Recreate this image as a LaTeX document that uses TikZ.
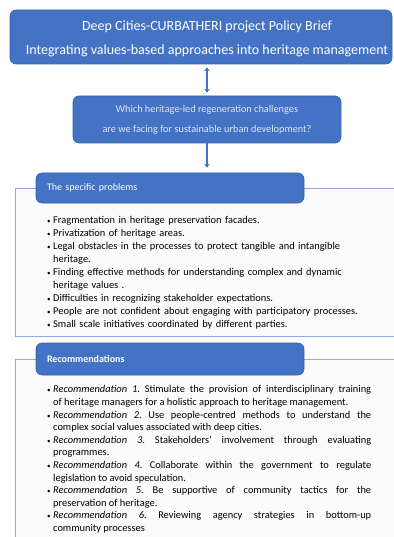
\documentclass[tikz,border=0pt]{standalone}
\usepackage{fontspec}
\setmainfont{Carlito}
\usepackage{enumitem}
\usetikzlibrary{positioning,arrows.meta}
\definecolor{boxblue}{HTML}{4472C4}
\definecolor{frameblue}{HTML}{8FAADC}
\definecolor{paleblue}{HTML}{DDE5F4}
\setlist[itemize]{nosep,leftmargin=6pt,labelsep=2.5pt,label={\fontsize{7}{7}\selectfont\textbullet}}
\frenchspacing

\begin{document}
\begin{tikzpicture}[x=1pt,y=-1pt,
  bluebox/.style={rectangle,rounded corners=6pt,fill=boxblue,draw=boxblue!85!black,line width=0.6pt,inner sep=0pt},
  headtab/.style={bluebox,minimum width=268pt,text width=246pt,inner xsep=11pt,align=left,text=white,font=\fontsize{10}{11}\selectfont},
  panel/.style={rectangle,draw=frameblue,line width=1.2pt,fill=gray!3,inner sep=0pt,anchor=north west},
  bodytext/.style={anchor=north west,inner sep=0pt,text width=324pt},
  link/.style={draw=boxblue,line width=1.8pt,>={Stealth[length=4pt,width=5.5pt]}}]
\useasboundingbox (0,0) rectangle (393,537);

% title and question
\node[bluebox,minimum width=382pt,minimum height=54pt] (brief) at (201,37) {};
\node[text=white,align=center,inner sep=0pt,font=\fontsize{14}{24}\selectfont] (brieftext) at (207,38.5)
  {Deep Cities-CURBATHERI project Policy Brief\\Integrating values-based approaches into heritage management};
\node[bluebox,minimum width=268pt,minimum height=47pt,text=paleblue,align=center,font=\fontsize{10.3}{20}\selectfont] (question) at (207,119.5)
  {Which heritage-led regeneration challenges\\are we facing for sustainable urban development?};

% problems
\node[panel,minimum width=390pt,minimum height=148pt] (probframe) at (15,188) {};
\node[headtab,minimum height=30pt] (probtab) at (170,188) {The specific problems};
\node[bodytext,align=left,font=\fontsize{10.4}{13}\selectfont] (problems) at (47,210) {
\begin{itemize}
\item Fragmentation in heritage preservation facades.
\item Privatization of heritage areas.
\item Legal obstacles in the processes to protect tangible and intangible\\heritage.
\item Finding effective methods for understanding complex and dynamic\\heritage values .
\item Difficulties in recognizing stakeholder expectations.
\item People are not confident about engaging with participatory processes.
\item Small scale initiatives coordinated by different parties.
\end{itemize}};

% recommendations
\node[panel,minimum width=390pt,minimum height=200pt] (recframe) at (15,359) {};
\node[headtab,minimum height=32pt,font=\fontsize{10}{11}\selectfont\bfseries] (rectab) at (170,359) {Recommendations};
\node[bodytext,align=justify,font=\fontsize{10.4}{12.6}\selectfont] (recs) at (47,380) {
\begin{itemize}
\item \textit{Recommendation 1}. Stimulate the provision of interdisciplinary training\linebreak of heritage managers for a holistic approach to heritage management.
\item \textit{Recommendation 2}. Use people-centred methods to understand the\linebreak complex social values associated with deep cities.
\item \textit{Recommendation 3}. Stakeholders' involvement through evaluating\linebreak programmes.
\item \textit{Recommendation 4}. Collaborate within the government to regulate\linebreak legislation to avoid speculation.
\item \textit{Recommendation 5}. Be supportive of community tactics for the\linebreak preservation of heritage.
\item \textit{Recommendation 6}. Reviewing agency strategies in bottom-up\linebreak community processes
\end{itemize}};

% connectors
\draw[link,<->,shorten <=3pt,shorten >=3pt] (brief.south -| question.north) -- (question.north);
\draw[link,->,shorten >=5pt] (question.south) -- (question.south |- probtab.north);
\end{tikzpicture}
\end{document}
